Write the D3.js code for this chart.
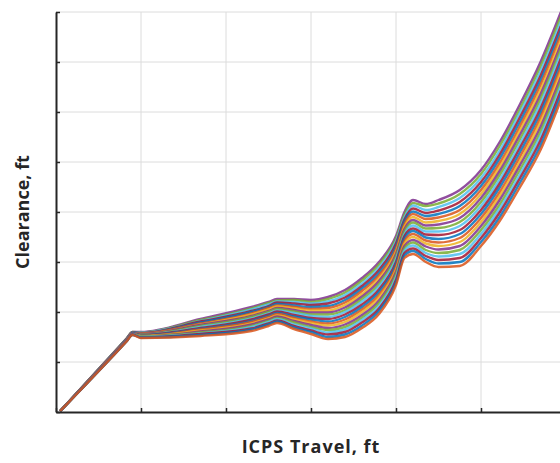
<!DOCTYPE html>
<html>
<head>
<meta charset="utf-8">
<script src="https://cdn.jsdelivr.net/npm/d3@7"></script>
<style>
  body { margin: 0; background: #fff; }
  svg { display: block; font-family: "Open Sans", "DejaVu Sans", sans-serif; }
</style>
</head>
<body>
<div id="chart"></div>
<script>
// x positions shared by every run (ICPS travel)
const travel = [0.5, 8.3, 9, 10, 17, 23, 25, 26, 28, 30, 32, 34, 36, 38, 40, 41, 42, 43.5, 45, 47.5, 50, 52.2, 54.6, 57, 59.4];

// clearance for each run from top to bottom
const runs = [
  [0.2,14.7,16.0,16.0,18.6,21.0,22.0,22.6,22.6,22.4,23.0,24.4,26.8,30.0,35.2,40.0,42.4,41.6,42.4,44.4,48.4,54.0,61.6,70.0,80.0],
  [0.2,14.7,16.0,15.9,18.4,20.7,21.8,22.3,22.4,22.0,22.6,23.9,26.3,29.5,34.7,39.5,41.8,41.2,41.7,43.6,47.6,53.2,60.7,69.1,79.1],
  [0.2,14.6,15.9,15.9,18.2,20.5,21.5,22.1,22.0,21.7,22.1,23.4,25.7,28.9,34.2,39.0,41.3,40.4,41.0,42.8,46.8,52.3,59.9,68.1,78.1],
  [0.2,14.6,15.9,15.8,18.1,20.2,21.2,21.9,21.7,21.4,21.7,22.9,25.2,28.4,33.7,38.5,40.7,39.8,40.3,42.0,46.0,51.5,59.0,67.2,77.2],
  [0.2,14.6,15.9,15.7,17.9,20.0,21.0,21.6,21.3,21.0,21.2,22.4,24.7,27.8,33.1,38.1,40.1,39.2,39.6,41.2,45.2,50.7,58.1,66.3,76.3],
  [0.2,14.5,15.8,15.7,17.7,19.7,20.8,21.3,21.0,20.6,20.8,21.9,24.2,27.3,32.6,37.6,39.6,38.6,38.9,40.4,44.4,49.8,57.2,65.4,75.4],
  [0.2,14.5,15.8,15.6,17.5,19.5,20.5,21.1,20.7,20.3,20.3,21.4,23.6,26.7,32.1,37.1,39.0,37.9,38.2,39.6,43.6,49.0,56.4,64.4,74.4],
  [0.2,14.5,15.8,15.6,17.4,19.2,20.2,20.8,20.4,19.9,19.9,20.9,23.1,26.2,31.6,36.6,38.4,37.3,37.5,38.8,42.8,48.2,55.5,63.5,73.5],
  [0.2,14.4,15.7,15.5,17.2,19.0,20.0,20.6,20.1,19.5,19.5,20.4,22.6,25.6,31.1,36.1,37.9,36.7,36.8,38.0,42.0,47.4,54.6,62.6,72.6],
  [0.2,14.4,15.7,15.4,17.0,18.7,19.7,20.3,19.8,19.2,19.0,20.0,22.1,25.1,30.6,35.6,37.3,36.1,36.1,37.2,41.2,46.5,53.7,61.7,71.7],
  [0.2,14.4,15.7,15.4,16.8,18.5,19.5,20.1,19.4,18.8,18.6,19.5,21.5,24.5,30.0,35.2,36.7,35.5,35.4,36.4,40.4,45.7,52.9,60.7,70.7],
  [0.2,14.4,15.7,15.3,16.6,18.2,19.2,19.8,19.1,18.5,18.1,19.0,21.0,24.0,29.5,34.7,36.2,34.9,34.6,35.6,39.6,44.9,52.0,59.8,69.8],
  [0.2,14.3,15.6,15.2,16.5,18.0,19.0,19.6,18.8,18.1,17.7,18.5,20.5,23.4,29.0,34.2,35.6,34.3,33.9,34.8,38.8,44.0,51.1,58.9,68.9],
  [0.2,14.3,15.6,15.2,16.3,17.7,18.7,19.3,18.5,17.8,17.3,18.0,20.0,22.9,28.5,33.7,35.0,33.7,33.2,34.0,38.0,43.2,50.2,58.0,68.0],
  [0.2,14.3,15.6,15.1,16.1,17.5,18.5,19.1,18.2,17.4,16.8,17.5,19.4,22.3,28.0,33.2,34.4,33.1,32.5,33.2,37.2,42.4,49.4,57.0,67.0],
  [0.2,14.2,15.5,15.1,15.9,17.2,18.2,18.8,17.9,17.0,16.4,17.0,18.9,21.8,27.5,32.7,33.9,32.4,31.8,32.4,36.4,41.5,48.5,56.1,66.1],
  [0.2,14.2,15.5,15.0,15.7,17.0,18.0,18.6,17.5,16.7,15.9,16.5,18.4,21.2,27.0,32.3,33.3,31.8,31.1,31.6,35.6,40.7,47.6,55.2,65.2],
  [0.2,14.2,15.5,14.9,15.6,16.7,17.7,18.3,17.2,16.3,15.5,16.0,17.9,20.7,26.4,31.8,32.7,31.2,30.4,30.8,34.8,39.9,46.8,54.3,64.3],
  [0.2,14.1,15.4,14.9,15.4,16.5,17.5,18.1,16.9,16.0,15.0,15.5,17.3,20.2,25.9,31.3,32.2,30.6,29.7,30.0,34.0,39.0,45.9,53.3,63.3],
  [0.2,14.1,15.4,14.8,15.2,16.2,17.2,17.8,16.6,15.6,14.6,15.0,16.8,19.6,25.4,30.8,31.6,30.0,29.0,29.2,33.2,38.2,45.0,52.4,62.4]
];

const xTicks = [0, 10, 20, 30, 40, 50, 60];
const yTicks = [0, 10, 20, 30, 40, 50, 60, 70, 80];
const palette = ["#0072BD", "#D95319", "#EDB120", "#7E2F8E", "#77AC30", "#4DBEEE", "#A2142F"];

const width = 560, height = 463;
const mLeft = 56, mTop = 12, mBottom = 412;

const svg = d3.select("#chart").append("svg")
    .attr("width", width)
    .attr("height", height);

const x = d3.scaleLinear().domain([0, 60]).range([mLeft, 566]);
const y = d3.scaleLinear().domain([0, 80]).range([mBottom, mTop]);

svg.append("clipPath").attr("id", "plot")
  .append("rect")
    .attr("x", mLeft).attr("y", mTop - 1)
    .attr("width", width - mLeft).attr("height", mBottom - mTop + 1);

// grid
svg.append("g").selectAll("line")
  .data(yTicks.slice(1))
  .join("line")
    .attr("x1", mLeft).attr("x2", width)
    .attr("y1", d => y(d)).attr("y2", d => y(d))
    .attr("stroke", "#dcdcdc").attr("stroke-width", 1);

svg.append("g").selectAll("line")
  .data(xTicks.slice(1))
  .join("line")
    .attr("x1", d => x(d)).attr("x2", d => x(d))
    .attr("y1", mTop).attr("y2", mBottom)
    .attr("stroke", "#dcdcdc").attr("stroke-width", 1);

// runs
const line = d3.line()
    .x((d, i) => x(travel[i]))
    .y(d => y(d))
    .curve(d3.curveMonotoneX);

svg.append("g")
    .attr("clip-path", "url(#plot)")
  .selectAll("path")
  .data(runs)
  .join("path")
    .attr("fill", "none")
    .attr("stroke", (d, i) => palette[(i + 3) % palette.length])
    .attr("stroke-width", 2.4)
    .attr("stroke-opacity", 0.85)
    .attr("stroke-linejoin", "round")
    .attr("d", line);

// axes, ticks inside, no labels
const yAxis = svg.append("g")
    .attr("transform", `translate(${mLeft},0)`)
    .call(d3.axisLeft(y).tickValues(yTicks).tickSize(-4).tickSizeOuter(0).tickFormat(""));

const xAxis = svg.append("g")
    .attr("transform", `translate(0,${mBottom})`)
    .call(d3.axisBottom(x).tickValues(xTicks).tickSize(-4).tickSizeOuter(0).tickFormat(""));

[yAxis, xAxis].forEach(a => {
  a.select(".domain").attr("stroke", "#262626").attr("stroke-width", 2);
  a.selectAll(".tick line").attr("stroke", "#262626").attr("stroke-width", 1.5);
});

svg.append("text")
    .attr("transform", `translate(29,212) rotate(-90)`)
    .attr("text-anchor", "middle")
    .attr("font-size", 18)
    .attr("font-weight", "bold")
    .attr("fill", "#262626")
    .text("Clearance, ft");

svg.append("text")
    .attr("x", 311).attr("y", 453)
    .attr("text-anchor", "middle")
    .attr("font-size", 18)
    .attr("font-weight", "bold")
    .attr("letter-spacing", 1)
    .attr("fill", "#262626")
    .text("ICPS Travel, ft");
</script>
</body>
</html>
